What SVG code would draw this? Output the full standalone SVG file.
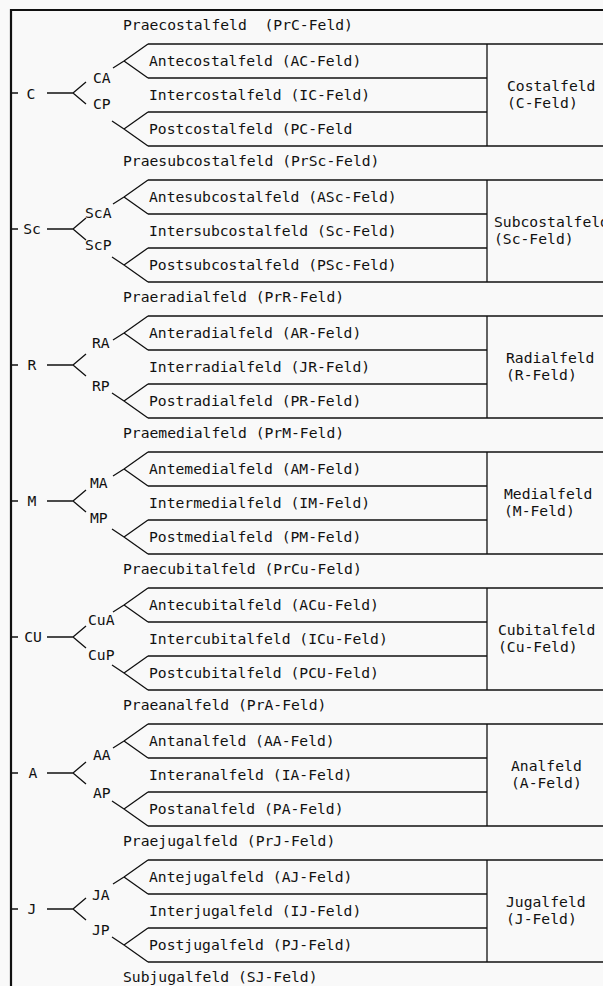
<svg xmlns="http://www.w3.org/2000/svg" width="603" height="986" viewBox="0 0 603 986">
<style>
.t{font-family:"DejaVu Sans Mono","Liberation Mono",monospace;font-size:14.7px;fill:#111}
.m{text-anchor:middle}
.ln{stroke:#111;stroke-width:1.3;fill:none}
.bd{stroke:#111;stroke-width:2.2;fill:none}
</style>
<defs>
<path id="box" class="ln" d="M148,44H603M148,78H487M148,112H487M148,146H603M487,44V146"/>
<path id="tree" class="ln" d="M10,93H18M47,93H73M86,82L73,93L86,104M113,68L124,61L148,44M124,61L148,78M112,121L124,129L148,146M124,129L148,112"/>
</defs>
<rect width="603" height="986" fill="#f9f9f9"/>
<path class="bd" d="M11,986V10H603"/>
<g id="connectors">
<use href="#tree"/>
<use href="#tree" y="136"/>
<use href="#tree" y="272"/>
<use href="#tree" y="408"/>
<use href="#tree" y="544"/>
<use href="#tree" y="680"/>
<use href="#tree" y="816"/>
</g>
<g id="costal">
<use href="#box"/>
<text class="t" x="123" y="30" xml:space="preserve">Praecostalfeld  (PrC-Feld)</text>
<text class="t" x="149" y="66">Antecostalfeld (AC-Feld)</text>
<text class="t" x="149" y="100">Intercostalfeld (IC-Feld)</text>
<text class="t" x="149" y="134">Postcostalfeld (PC-Feld</text>
<text class="t" x="507" y="91">Costalfeld</text>
<text class="t" x="507" y="108">(C-Feld)</text>
<text class="t m" x="31" y="99">C</text>
<text class="t" x="93" y="83">CA</text>
<text class="t" x="93" y="109">CP</text>
</g>
<g id="subcostal" transform="translate(0,136)">
<use href="#box"/>
<text class="t" x="123" y="30">Praesubcostalfeld (PrSc-Feld)</text>
<text class="t" x="149" y="66">Antesubcostalfeld (ASc-Feld)</text>
<text class="t" x="149" y="100">Intersubcostalfeld (Sc-Feld)</text>
<text class="t" x="149" y="134">Postsubcostalfeld (PSc-Feld)</text>
<text class="t" x="494" y="91">Subcostalfeld</text>
<text class="t" x="494" y="108">(Sc-Feld)</text>
<text class="t m" x="32" y="98">Sc</text>
<text class="t" x="85" y="82">ScA</text>
<text class="t" x="85" y="114">ScP</text>
</g>
<g id="radial" transform="translate(0,272)">
<use href="#box"/>
<text class="t" x="123" y="30">Praeradialfeld (PrR-Feld)</text>
<text class="t" x="149" y="66">Anteradialfeld (AR-Feld)</text>
<text class="t" x="149" y="100">Interradialfeld (JR-Feld)</text>
<text class="t" x="149" y="134">Postradialfeld (PR-Feld)</text>
<text class="t" x="506" y="91">Radialfeld</text>
<text class="t" x="506" y="108">(R-Feld)</text>
<text class="t m" x="32" y="98">R</text>
<text class="t" x="92" y="76">RA</text>
<text class="t" x="92" y="119">RP</text>
</g>
<g id="medial" transform="translate(0,408)">
<use href="#box"/>
<text class="t" x="123" y="30">Praemedialfeld (PrM-Feld)</text>
<text class="t" x="149" y="66">Antemedialfeld (AM-Feld)</text>
<text class="t" x="149" y="100">Intermedialfeld (IM-Feld)</text>
<text class="t" x="149" y="134">Postmedialfeld (PM-Feld)</text>
<text class="t" x="504" y="91">Medialfeld</text>
<text class="t" x="504" y="108">(M-Feld)</text>
<text class="t m" x="32" y="98">M</text>
<text class="t" x="90" y="80">MA</text>
<text class="t" x="90" y="115">MP</text>
</g>
<g id="cubital" transform="translate(0,544)">
<use href="#box"/>
<text class="t" x="123" y="30">Praecubitalfeld (PrCu-Feld)</text>
<text class="t" x="149" y="66">Antecubitalfeld (ACu-Feld)</text>
<text class="t" x="149" y="100">Intercubitalfeld (ICu-Feld)</text>
<text class="t" x="149" y="134">Postcubitalfeld (PCU-Feld)</text>
<text class="t" x="498" y="91">Cubitalfeld</text>
<text class="t" x="498" y="108">(Cu-Feld)</text>
<text class="t m" x="33" y="98">CU</text>
<text class="t" x="88" y="81">CuA</text>
<text class="t" x="88" y="116">CuP</text>
</g>
<g id="anal" transform="translate(0,680)">
<use href="#box"/>
<text class="t" x="123" y="30">Praeanalfeld (PrA-Feld)</text>
<text class="t" x="149" y="66">Antanalfeld (AA-Feld)</text>
<text class="t" x="149" y="100">Interanalfeld (IA-Feld)</text>
<text class="t" x="149" y="134">Postanalfeld (PA-Feld)</text>
<text class="t" x="511" y="91">Analfeld</text>
<text class="t" x="511" y="108">(A-Feld)</text>
<text class="t m" x="33" y="98">A</text>
<text class="t" x="93" y="80">AA</text>
<text class="t" x="93" y="118">AP</text>
</g>
<g id="jugal" transform="translate(0,816)">
<use href="#box"/>
<text class="t" x="123" y="30">Praejugalfeld (PrJ-Feld)</text>
<text class="t" x="149" y="66">Antejugalfeld (AJ-Feld)</text>
<text class="t" x="149" y="100">Interjugalfeld (IJ-Feld)</text>
<text class="t" x="149" y="134">Postjugalfeld (PJ-Feld)</text>
<text class="t" x="506" y="91">Jugalfeld</text>
<text class="t" x="506" y="108">(J-Feld)</text>
<text class="t m" x="32" y="98">J</text>
<text class="t" x="92" y="84">JA</text>
<text class="t" x="92" y="119">JP</text>
<text class="t" x="123" y="166">Subjugalfeld (SJ-Feld)</text>
</g>
</svg>
